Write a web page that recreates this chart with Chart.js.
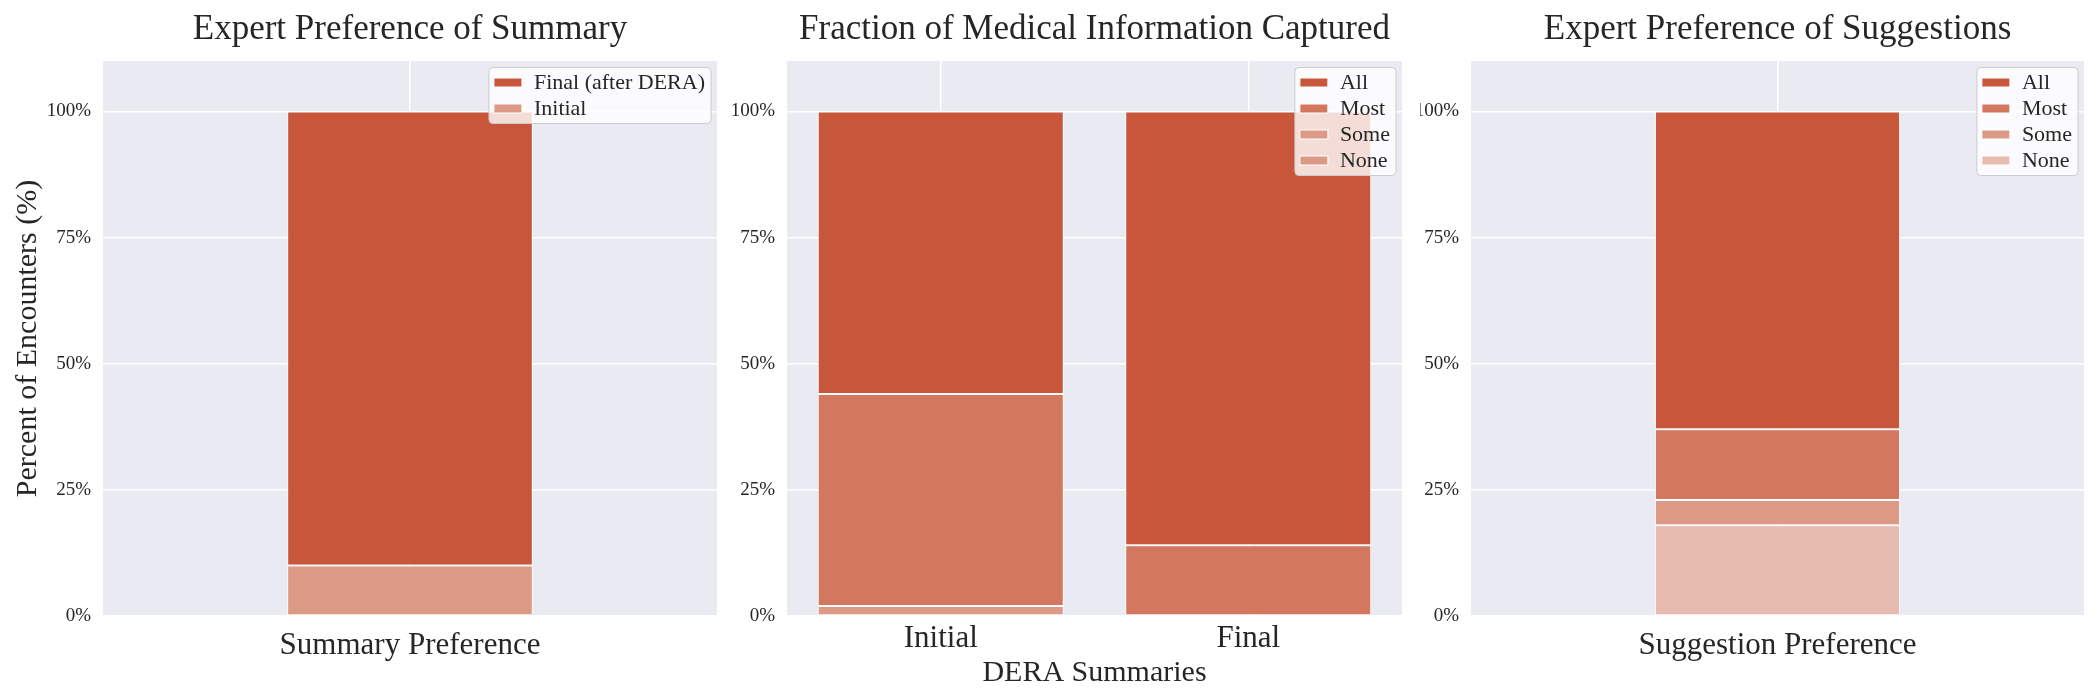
<!DOCTYPE html>
<html>
<head>
<meta charset="utf-8">
<script src="https://cdn.jsdelivr.net/npm/chart.js@4.4.0/dist/chart.umd.min.js"></script>
<style>
    body { margin: 0; background: #fff; width: 2100px; height: 700px; overflow: hidden; position: relative; }
    .panel { position: absolute; top: 0; height: 700px; }
</style>
</head>
<body>
<div class="panel" style="left:0;width:730px"><canvas id="summaryChart"></canvas></div>
<div class="panel" style="left:730px;width:690px"><canvas id="infoChart"></canvas></div>
<div class="panel" style="left:1420px;width:680px"><canvas id="suggChart"></canvas></div>
<script>
// Dữ liệu (%)
const summaryLabels = ['Summary Preference'];
const summaryInitial = [10];
const summaryFinal = [90];

const infoLabels = ['Initial', 'Final'];
const infoNone = [0, 0];
const infoSome = [2, 0];
const infoMost = [42, 14];
const infoAll = [56, 86];

const suggLabels = ['Suggestion Preference'];
const suggNone = [18];
const suggSome = [5];
const suggMost = [14];
const suggAll = [63];

const yTicks = [0, 25, 50, 75, 100];

const allColor = '#c8563a';
const mostColor = '#d3785f';
const someColor = '#dc9985';
const noneColor = '#e8bbb0';
const textColor = '#262626';
const serif = '"Liberation Serif", "DejaVu Serif", serif';

Chart.defaults.font.family = serif;
Chart.defaults.color = textColor;

// Nền xám của vùng vẽ
const bgPlugin = {
    id: 'bgPlugin',
    beforeDraw(chart) {
        const { ctx, chartArea: a } = chart;
        ctx.save();
        ctx.fillStyle = '#eaeaf2';
        ctx.fillRect(a.left, a.top, a.right - a.left, a.bottom - a.top);
        ctx.restore();
    }
};

// Tiêu đề căn giữa vùng vẽ
const panelTitle = {
    id: 'panelTitle',
    afterDraw(chart, args, opts) {
        const { ctx, chartArea: a } = chart;
        ctx.save();
        ctx.font = '35px ' + serif;
        ctx.fillStyle = textColor;
        ctx.textAlign = 'center';
        ctx.textBaseline = 'middle';
        ctx.fillText(opts.text, (a.left + a.right) / 2, 30);
        ctx.restore();
    }
};

// Chú thích trong góc trên bên phải
const boxLegend = {
    id: 'boxLegend',
    afterDraw(chart) {
        const { ctx, chartArea: a } = chart;
        const items = chart.data.datasets.slice().reverse();
        ctx.save();
        ctx.font = '22px ' + serif;
        const textW = Math.max(...items.map(d => ctx.measureText(d.label).width));
        const rowH = 26;
        const w = 45 + textW + 6;
        const h = items.length * rowH + 4;
        const x = a.right - 6 - w;
        const y = a.top + 6.5;
        ctx.beginPath();
        ctx.roundRect(x, y, w, h, 4);
        ctx.fillStyle = 'rgba(255,255,255,0.8)';
        ctx.fill();
        ctx.strokeStyle = '#cccccc';
        ctx.lineWidth = 1;
        ctx.stroke();
        items.forEach((d, i) => {
            const cy = y + 2 + rowH * i + rowH / 2;
            ctx.fillStyle = d.backgroundColor;
            ctx.fillRect(x + 5, cy - 4.5, 28, 9);
            ctx.strokeStyle = '#ffffff';
            ctx.strokeRect(x + 5, cy - 4.5, 28, 9);
            ctx.fillStyle = textColor;
            ctx.textBaseline = 'middle';
            ctx.fillText(d.label, x + 45, cy + 1);
        });
        ctx.restore();
    }
};

function ds(label, data, color, barPct) {
    return {
        label: label,
        data: data,
        backgroundColor: color,
        borderColor: '#ffffff',
        borderWidth: 1,
        borderSkipped: false,
        barPercentage: barPct,
        categoryPercentage: 1
    };
}

function makeChart(id, cfg) {
    return new Chart(document.getElementById(id), {
        type: 'bar',
        data: { labels: cfg.labels, datasets: cfg.datasets },
        options: {
            responsive: true,
            maintainAspectRatio: false,
            animation: false,
            devicePixelRatio: 1,
            layout: { padding: { top: 61, right: cfg.padRight, left: 0, bottom: 0 } },
            plugins: {
                legend: { display: false },
                tooltip: { enabled: false },
                panelTitle: { text: cfg.title }
            },
            scales: {
                x: {
                    stacked: true,
                    offset: true,
                    grid: { color: '#ffffff', lineWidth: 1.5, offset: false, drawTicks: false },
                    border: { display: false },
                    ticks: { font: { size: 31 }, padding: cfg.xPad, color: textColor },
                    title: {
                        display: !!cfg.xTitle,
                        text: cfg.xTitle || '',
                        font: { size: 30 },
                        padding: { top: 0, bottom: 9 },
                        color: textColor
                    },
                    afterFit(scale) { scale.height = 84; }
                },
                y: {
                    stacked: true,
                    min: 0,
                    max: 110,
                    grid: { color: '#ffffff', lineWidth: 1.5, drawTicks: false },
                    border: { display: false },
                    ticks: {
                        font: { size: 19 },
                        padding: 12,
                        color: textColor,
                        callback: v => v + '%'
                    },
                    afterBuildTicks(scale) {
                        scale.ticks = yTicks.map(v => ({ value: v }));
                    },
                    title: {
                        display: !!cfg.yTitle,
                        text: cfg.yTitle || '',
                        font: { size: 30 },
                        padding: { top: 10, bottom: 0 },
                        color: textColor
                    },
                    afterFit(scale) { scale.width = cfg.yWidth; }
                }
            }
        },
        plugins: [bgPlugin, panelTitle, boxLegend]
    });
}

makeChart('summaryChart', {
    labels: summaryLabels,
    title: 'Expert Preference of Summary',
    yTitle: 'Percent of Encounters (%)',
    yWidth: 103,
    padRight: 13,
    xPad: 11,
    datasets: [
        ds('Initial', summaryInitial, someColor, 0.4),
        ds('Final (after DERA)', summaryFinal, allColor, 0.4)
    ]
});

makeChart('infoChart', {
    labels: infoLabels,
    title: 'Fraction of Medical Information Captured',
    xTitle: 'DERA Summaries',
    yWidth: 57,
    padRight: 18,
    xPad: 4,
    datasets: [
        ds('None', infoNone, someColor, 0.8),
        ds('Some', infoSome, someColor, 0.8),
        ds('Most', infoMost, mostColor, 0.8),
        ds('All', infoAll, allColor, 0.8)
    ]
});

makeChart('suggChart', {
    labels: suggLabels,
    title: 'Expert Preference of Suggestions',
    yWidth: 51,
    padRight: 16,
    xPad: 11,
    datasets: [
        ds('None', suggNone, noneColor, 0.4),
        ds('Some', suggSome, someColor, 0.4),
        ds('Most', suggMost, mostColor, 0.4),
        ds('All', suggAll, allColor, 0.4)
    ]
});
</script>
</body>
</html>
